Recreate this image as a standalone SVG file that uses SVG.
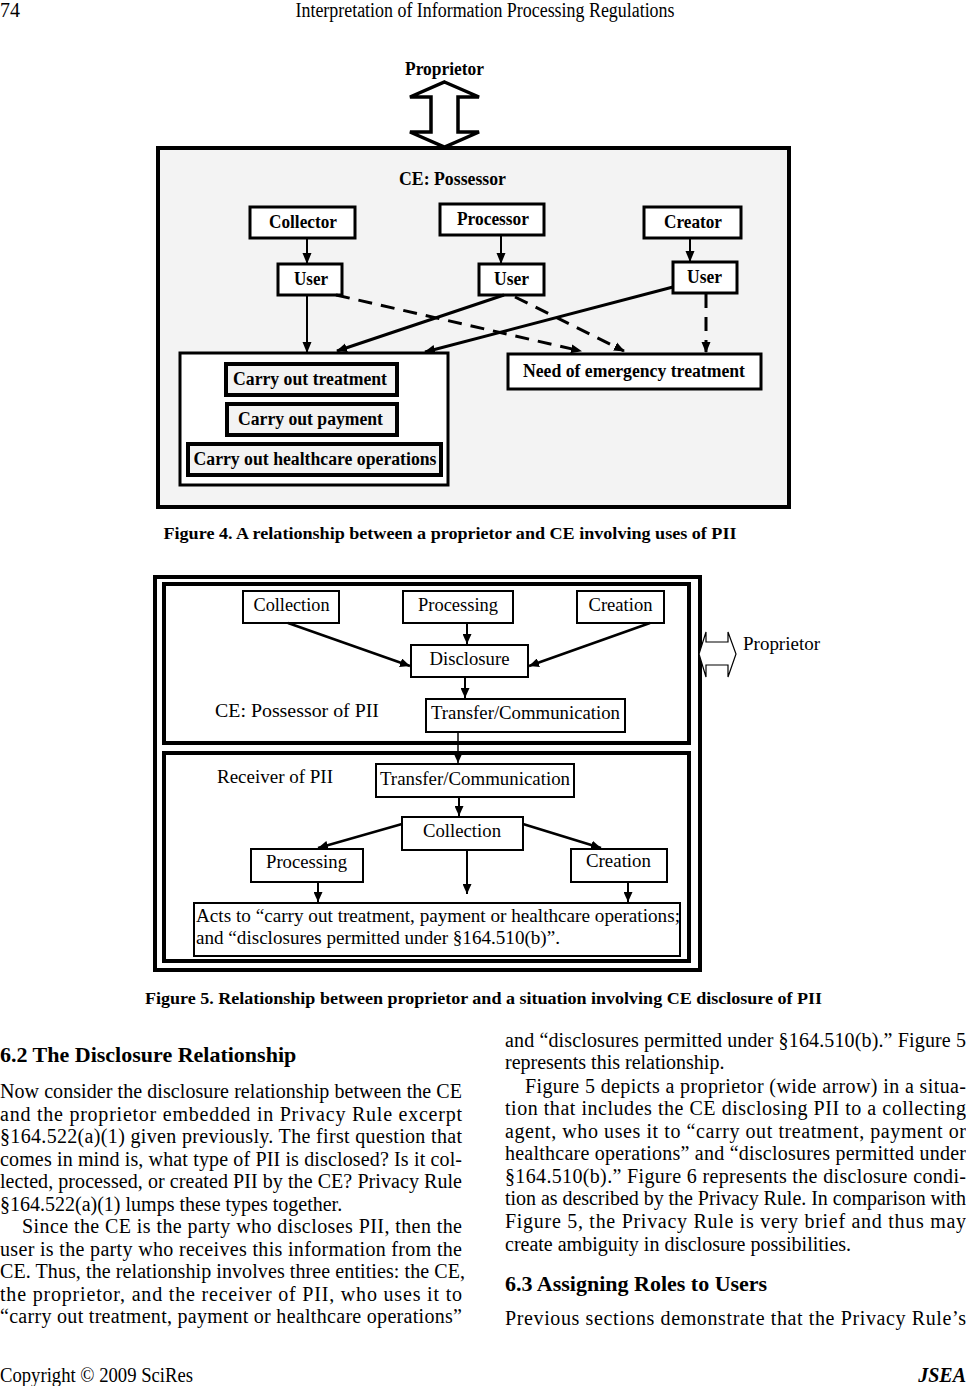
<svg xmlns="http://www.w3.org/2000/svg" width="966" height="1386" viewBox="0 0 966 1386">
<defs>
<style>
.f4{font-family:"Liberation Serif",serif;font-weight:bold;font-size:18px;text-anchor:middle;fill:#000}
.f5{font-family:"Liberation Serif",serif;font-size:19px;fill:#000}
.f5m{font-family:"Liberation Serif",serif;font-size:19px;text-anchor:middle;fill:#000}
.body{font-family:"Liberation Serif",serif;font-size:20px;fill:#000}
.hd{font-family:"Liberation Serif",serif;font-size:22px;font-weight:bold;fill:#000}
.cap{font-family:"Liberation Serif",serif;font-size:16px;font-weight:bold;fill:#000}
.nb{fill:#fff;stroke:#000;stroke-width:3}
.nb5{fill:#fff;stroke:#000;stroke-width:2}
.ln{stroke:#000;fill:none}
</style>
<marker id="ah" markerWidth="11" markerHeight="10" refX="10" refY="5" orient="auto" markerUnits="userSpaceOnUse"><path d="M0,0.5 L11,5 L0,9.5 z" fill="#000"/></marker>
<marker id="ah5" markerWidth="10" markerHeight="9" refX="10" refY="4.5" orient="auto" markerUnits="userSpaceOnUse"><path d="M0,0 L10,4.5 L0,9 z" fill="#000"/></marker>
</defs>
<rect width="966" height="1386" fill="#fff"/>

<!-- Page header -->
<g id="header">
<text class="body" x="0" y="17" font-size="17">74</text>
<text class="body" x="485" y="17" font-size="17" text-anchor="middle" textLength="379" lengthAdjust="spacingAndGlyphs">Interpretation of Information Processing Regulations</text>
</g>

<!-- ===== Figure 4 ===== -->
<g id="fig4">
<g id="f4-proprietor">
<text class="f4" x="444.5" y="75" textLength="79" lengthAdjust="spacingAndGlyphs">Proprietor</text>
<path d="M444.5,82 L479,97 L458,97 L458,132 L479,132 L444.5,147 L410,132 L431,132 L431,97 L410,97 Z" fill="#fff" stroke="#000" stroke-width="3.5" stroke-linejoin="miter"/>
</g>
<g id="f4-ce">
<rect x="158" y="148" width="631" height="359" fill="#f3f3f3" stroke="#000" stroke-width="4"/>
<text class="f4" x="452.5" y="185" textLength="107" lengthAdjust="spacingAndGlyphs">CE: Possessor</text>
</g>
<g id="f4-collector"><rect class="nb" x="250" y="207" width="105" height="31"/><text class="f4" x="303" y="228" textLength="68" lengthAdjust="spacingAndGlyphs">Collector</text></g>
<g id="f4-processor"><rect class="nb" x="440" y="204" width="104" height="31"/><text class="f4" x="493" y="225" textLength="72" lengthAdjust="spacingAndGlyphs">Processor</text></g>
<g id="f4-creator"><rect class="nb" x="644" y="207" width="97" height="31"/><text class="f4" x="693" y="228" textLength="58" lengthAdjust="spacingAndGlyphs">Creator</text></g>
<g id="f4-user1"><rect class="nb" x="278" y="264" width="64" height="31"/><text class="f4" x="311" y="285" textLength="34" lengthAdjust="spacingAndGlyphs">User</text></g>
<g id="f4-user2"><rect class="nb" x="479" y="264" width="65" height="31"/><text class="f4" x="511.5" y="285" textLength="35" lengthAdjust="spacingAndGlyphs">User</text></g>
<g id="f4-user3"><rect class="nb" x="673" y="262" width="64" height="31"/><text class="f4" x="704.5" y="283" textLength="35" lengthAdjust="spacingAndGlyphs">User</text></g>
<g id="f4-uses">
<rect x="180" y="353" width="268" height="132" fill="#fff" stroke="#000" stroke-width="3"/>
<g id="f4-treatment"><rect x="226" y="364" width="171" height="31" fill="#f3f3f3" stroke="#000" stroke-width="4"/><text class="f4" x="310" y="385" textLength="154" lengthAdjust="spacingAndGlyphs">Carry out treatment</text></g>
<g id="f4-payment"><rect x="227" y="404" width="170" height="31" fill="#f3f3f3" stroke="#000" stroke-width="4"/><text class="f4" x="310.5" y="425" textLength="145" lengthAdjust="spacingAndGlyphs">Carry out payment</text></g>
<g id="f4-healthcare"><rect x="188" y="444" width="253" height="31" fill="#f3f3f3" stroke="#000" stroke-width="4"/><text class="f4" x="315" y="465" textLength="243" lengthAdjust="spacingAndGlyphs">Carry out healthcare operations</text></g>
</g>
<g id="f4-emergency"><rect x="508" y="354" width="253" height="35" fill="#fff" stroke="#000" stroke-width="3"/><text class="f4" x="634" y="377" textLength="222" lengthAdjust="spacingAndGlyphs">Need of emergency treatment</text></g>
<g id="f4-connectors">
<line class="ln" x1="307" y1="238" x2="307" y2="263" stroke-width="2" marker-end="url(#ah)"/>
<line class="ln" x1="501" y1="235" x2="501" y2="263" stroke-width="2" marker-end="url(#ah)"/>
<line class="ln" x1="690" y1="238" x2="690" y2="261" stroke-width="2" marker-end="url(#ah)"/>
<line class="ln" x1="307" y1="295" x2="307" y2="352" stroke-width="2" marker-end="url(#ah)"/>
<line class="ln" x1="336" y1="295" x2="581" y2="351" stroke-width="3" stroke-dasharray="14,9" marker-end="url(#ah)"/>
<line class="ln" x1="504" y1="295" x2="337" y2="351" stroke-width="3" marker-end="url(#ah)"/>
<line class="ln" x1="515" y1="297" x2="624" y2="351" stroke-width="3" stroke-dasharray="14,9" marker-end="url(#ah)"/>
<line class="ln" x1="673" y1="287" x2="425" y2="352" stroke-width="3" marker-end="url(#ah)"/>
<line class="ln" x1="706" y1="294" x2="706" y2="352" stroke-width="3" stroke-dasharray="14,9" marker-end="url(#ah)"/>
</g>
</g>
<text class="cap" x="450" y="539" text-anchor="middle" textLength="573" lengthAdjust="spacingAndGlyphs">Figure 4. A relationship between a proprietor and CE involving uses of PII</text>

<!-- ===== Figure 5 ===== -->
<g id="fig5">
<rect x="155" y="577" width="545" height="393" fill="#fff" stroke="#000" stroke-width="4"/>
<g id="f5-ce">
<rect x="164" y="584" width="525" height="159" fill="#fff" stroke="#000" stroke-width="4"/>
<text class="f5" x="215" y="717" textLength="164" lengthAdjust="spacingAndGlyphs">CE: Possessor of PII</text>
</g>
<g id="f5-collection1"><rect class="nb5" x="243" y="591" width="96" height="32"/><text class="f5m" x="291.5" y="611" textLength="76" lengthAdjust="spacingAndGlyphs">Collection</text></g>
<g id="f5-processing1"><rect class="nb5" x="403" y="591" width="110" height="32"/><text class="f5m" x="458" y="611" textLength="80" lengthAdjust="spacingAndGlyphs">Processing</text></g>
<g id="f5-creation1"><rect class="nb5" x="577" y="591" width="87" height="32"/><text class="f5m" x="620.5" y="611" textLength="64" lengthAdjust="spacingAndGlyphs">Creation</text></g>
<g id="f5-disclosure"><rect class="nb5" x="411" y="645" width="117" height="32"/><text class="f5m" x="469.5" y="665" textLength="80" lengthAdjust="spacingAndGlyphs">Disclosure</text></g>
<g id="f5-transfer1"><rect class="nb5" x="426" y="699" width="199" height="33"/><text class="f5m" x="525.5" y="719" textLength="189" lengthAdjust="spacingAndGlyphs">Transfer/Communication</text></g>
<g id="f5-receiver">
<rect x="164" y="753" width="525" height="208" fill="#fff" stroke="#000" stroke-width="4"/>
<text class="f5" x="217" y="783" textLength="116" lengthAdjust="spacingAndGlyphs">Receiver of PII</text>
</g>
<g id="f5-transfer2"><rect class="nb5" x="376" y="764" width="198" height="33"/><text class="f5m" x="475" y="785" textLength="190" lengthAdjust="spacingAndGlyphs">Transfer/Communication</text></g>
<g id="f5-collection2"><rect class="nb5" x="402" y="817" width="121" height="33"/><text class="f5m" x="462" y="837" textLength="78" lengthAdjust="spacingAndGlyphs">Collection</text></g>
<g id="f5-processing2"><rect class="nb5" x="251" y="849" width="112" height="33"/><text class="f5m" x="306.5" y="868" textLength="81" lengthAdjust="spacingAndGlyphs">Processing</text></g>
<g id="f5-creation2"><rect class="nb5" x="571" y="849" width="96" height="33"/><text class="f5m" x="618.5" y="867" textLength="65" lengthAdjust="spacingAndGlyphs">Creation</text></g>
<g id="f5-acts"><rect class="nb5" x="194" y="903" width="486" height="53"/>
<text class="f5" x="196" y="922" textLength="484" lengthAdjust="spacingAndGlyphs">Acts to “carry out treatment, payment or healthcare operations;</text>
<text class="f5" x="196" y="944" textLength="364" lengthAdjust="spacingAndGlyphs">and “disclosures permitted under §164.510(b)”.</text>
</g>
<g id="f5-proprietor">
<path d="M699,654 L706,632 L706,642 L728,642 L728,632 L736,654 L728,677 L728,665 L706,665 L706,677 Z" fill="#fff" stroke="#000" stroke-width="1.2"/>
<text class="f5" x="743" y="650" textLength="77" lengthAdjust="spacingAndGlyphs">Proprietor</text>
</g>
<g id="f5-connectors">
<line class="ln" x1="288" y1="623" x2="410" y2="666" stroke-width="2.5" marker-end="url(#ah5)"/>
<line class="ln" x1="467" y1="623" x2="467" y2="644" stroke-width="2" marker-end="url(#ah5)"/>
<line class="ln" x1="650" y1="623" x2="529" y2="666" stroke-width="2.5" marker-end="url(#ah5)"/>
<line class="ln" x1="465" y1="677" x2="465" y2="698" stroke-width="2" marker-end="url(#ah5)"/>
<line class="ln" x1="458" y1="732" x2="458" y2="763" stroke-width="1.5" marker-end="url(#ah5)"/>
<line class="ln" x1="459" y1="797" x2="459" y2="816" stroke-width="2" marker-end="url(#ah5)"/>
<line class="ln" x1="402" y1="824" x2="318" y2="848" stroke-width="2.5" marker-end="url(#ah5)"/>
<line class="ln" x1="523" y1="824" x2="601" y2="848" stroke-width="2.5" marker-end="url(#ah5)"/>
<line class="ln" x1="467" y1="850" x2="467" y2="894" stroke-width="2" marker-end="url(#ah5)"/>
<line class="ln" x1="318" y1="882" x2="318" y2="902" stroke-width="2" marker-end="url(#ah5)"/>
<line class="ln" x1="628" y1="882" x2="628" y2="902" stroke-width="2" marker-end="url(#ah5)"/>
</g>
</g>
<text class="cap" x="483.5" y="1004" text-anchor="middle" textLength="677" lengthAdjust="spacingAndGlyphs">Figure 5. Relationship between proprietor and a situation involving CE disclosure of PII</text>

<!-- ===== Body text ===== -->
<g id="body-left">
<text class="hd" x="0" y="1062">6.2 The Disclosure Relationship</text>
<text class="body" x="0" y="1098" textLength="462" lengthAdjust="spacing">Now consider the disclosure relationship between the CE</text>
<text class="body" x="0" y="1120.5" textLength="462" lengthAdjust="spacing">and the proprietor embedded in Privacy Rule excerpt</text>
<text class="body" x="0" y="1143" textLength="462" lengthAdjust="spacing">§164.522(a)(1) given previously. The first question that</text>
<text class="body" x="0" y="1165.5" textLength="462" lengthAdjust="spacing">comes in mind is, what type of PII is disclosed? Is it col-</text>
<text class="body" x="0" y="1188" textLength="462" lengthAdjust="spacing">lected, processed, or created PII by the CE? Privacy Rule</text>
<text class="body" x="0" y="1210.5">§164.522(a)(1) lumps these types together.</text>
<text class="body" x="22" y="1233" textLength="440" lengthAdjust="spacing">Since the CE is the party who discloses PII, then the</text>
<text class="body" x="0" y="1255.5" textLength="462" lengthAdjust="spacing">user is the party who receives this information from the</text>
<text class="body" x="0" y="1278" textLength="465" lengthAdjust="spacing">CE. Thus, the relationship involves three entities: the CE,</text>
<text class="body" x="0" y="1300.5" textLength="462" lengthAdjust="spacing">the proprietor, and the receiver of PII, who uses it to</text>
<text class="body" x="0" y="1323" textLength="462" lengthAdjust="spacing">“carry out treatment, payment or healthcare operations”</text>
</g>
<g id="body-right">
<text class="body" x="505" y="1047" textLength="461" lengthAdjust="spacing">and “disclosures permitted under §164.510(b).” Figure 5</text>
<text class="body" x="505" y="1069">represents this relationship.</text>
<text class="body" x="525" y="1093" textLength="441" lengthAdjust="spacing">Figure 5 depicts a proprietor (wide arrow) in a situa-</text>
<text class="body" x="505" y="1115" textLength="461" lengthAdjust="spacing">tion that includes the CE disclosing PII to a collecting</text>
<text class="body" x="505" y="1138" textLength="461" lengthAdjust="spacing">agent, who uses it to “carry out treatment, payment or</text>
<text class="body" x="505" y="1160" textLength="461" lengthAdjust="spacing">healthcare operations” and “disclosures permitted under</text>
<text class="body" x="505" y="1183" textLength="461" lengthAdjust="spacing">§164.510(b).” Figure 6 represents the disclosure condi-</text>
<text class="body" x="505" y="1205" textLength="461" lengthAdjust="spacing">tion as described by the Privacy Rule. In comparison with</text>
<text class="body" x="505" y="1228" textLength="461" lengthAdjust="spacing">Figure 5, the Privacy Rule is very brief and thus may</text>
<text class="body" x="505" y="1251">create ambiguity in disclosure possibilities.</text>
<text class="hd" x="505" y="1291">6.3 Assigning Roles to Users</text>
<text class="body" x="505" y="1325" textLength="461" lengthAdjust="spacing">Previous sections demonstrate that the Privacy Rule’s</text>
</g>

<g id="footer">
<text class="body" x="0" y="1382" font-size="17" textLength="193" lengthAdjust="spacingAndGlyphs">Copyright © 2009 SciRes</text>
<text class="body" x="966" y="1382" font-size="17" font-weight="bold" font-style="italic" text-anchor="end">JSEA</text>
</g>
</svg>
